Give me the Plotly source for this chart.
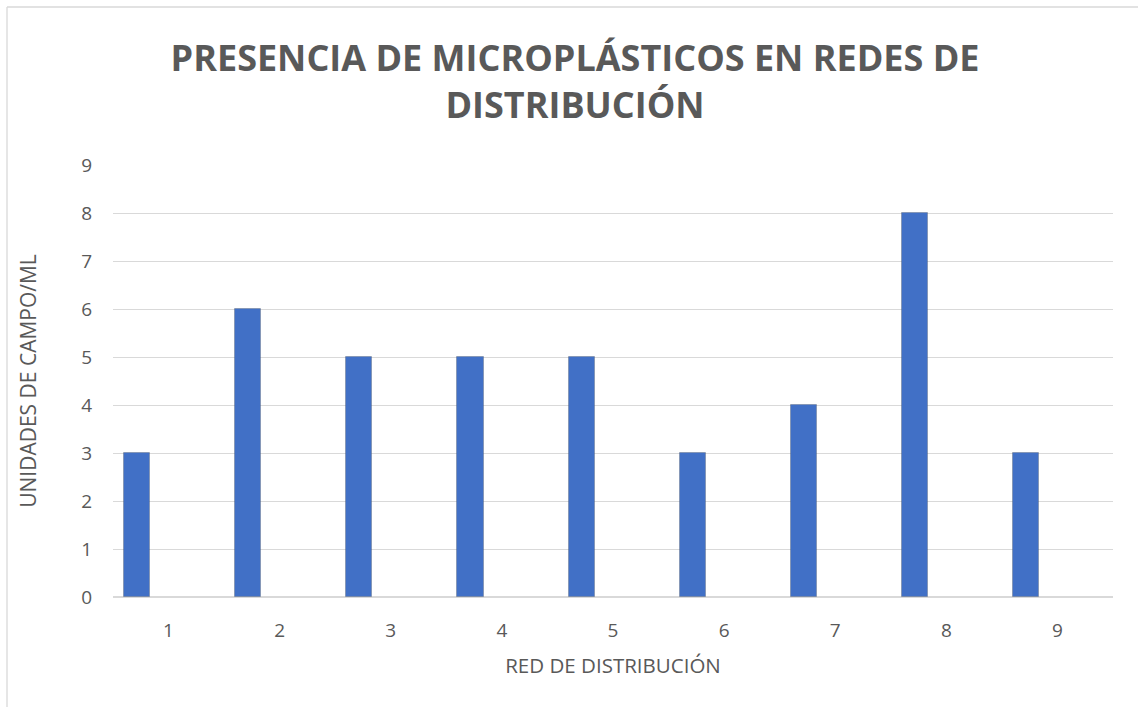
import plotly.graph_objects as go

categories = [1, 2, 3, 4, 5, 6, 7, 8, 9]
values = [3, 6, 5, 5, 5, 3, 4, 8, 3]
tick_labels = ["1", "2", "3", "4", "5", "6", "7", "8", "9"]

title_text = "PRESENCIA DE MICROPLÁSTICOS EN REDES DE<br>DISTRIBUCIÓN"
x_title = "RED DE DISTRIBUCIÓN"
y_title = "UNIDADES DE CAMPO/ML"

W, H = 1138, 707
L, R, T, B = 113, 25, 165, 110
pw, ph = W - L - R, H - T - B

def px_x(p):
    return (p - L) / pw

def px_y(p):
    return (H - B - p) / ph

grey = "#595959"
font = "Open Sans"

fig = go.Figure()
fig.add_trace(go.Bar(
    x=categories, y=values,
    width=0.235, offset=-0.40,
    marker=dict(color="#4170C6", line=dict(color="rgba(60,60,60,0.25)", width=1)),
    hoverinfo="x+y",
))

fig.update_layout(
    width=W, height=H,
    margin=dict(l=L, r=R, t=T, b=B),
    paper_bgcolor="white", plot_bgcolor="white",
    showlegend=False,
    font=dict(family=font, color=grey, size=19),
    title=dict(text=title_text, x=0.5053, xanchor="center", y=1 - 71 / H, yanchor="middle",
               font=dict(family=font, size=36, color=grey, weight="bold")),
    xaxis=dict(range=[0.5, 9.5], tickmode="array", tickvals=categories, ticktext=tick_labels,
               showgrid=False, zeroline=False, showline=False, ticks="",
               ticklabelstandoff=20, tickfont=dict(size=19, color=grey),
               title=dict(text=x_title, standoff=16, font=dict(size=20.5, color=grey))),
    yaxis=dict(range=[0, 9], dtick=1, showgrid=True, gridcolor="#d9d9d9", gridwidth=1.3,
               zeroline=True, zerolinecolor="#d9d9d9", zerolinewidth=1.6, showline=False,
               ticks="", ticklabelstandoff=20, tickfont=dict(size=19, color=grey),
               title=dict(text=y_title, standoff=38, font=dict(size=21, color=grey))),
    bargap=0,
)

# chart frame (left and top edges visible)
fig.add_shape(type="line", xref="paper", yref="paper",
              x0=px_x(7), x1=px_x(W + 5), y0=px_y(7), y1=px_y(7),
              line=dict(color="#d9d9d9", width=1.3), layer="below")
fig.add_shape(type="line", xref="paper", yref="paper",
              x0=px_x(7), x1=px_x(7), y0=px_y(7), y1=px_y(H + 5),
              line=dict(color="#d9d9d9", width=1.3), layer="below")

fig.write_html("out.html")
